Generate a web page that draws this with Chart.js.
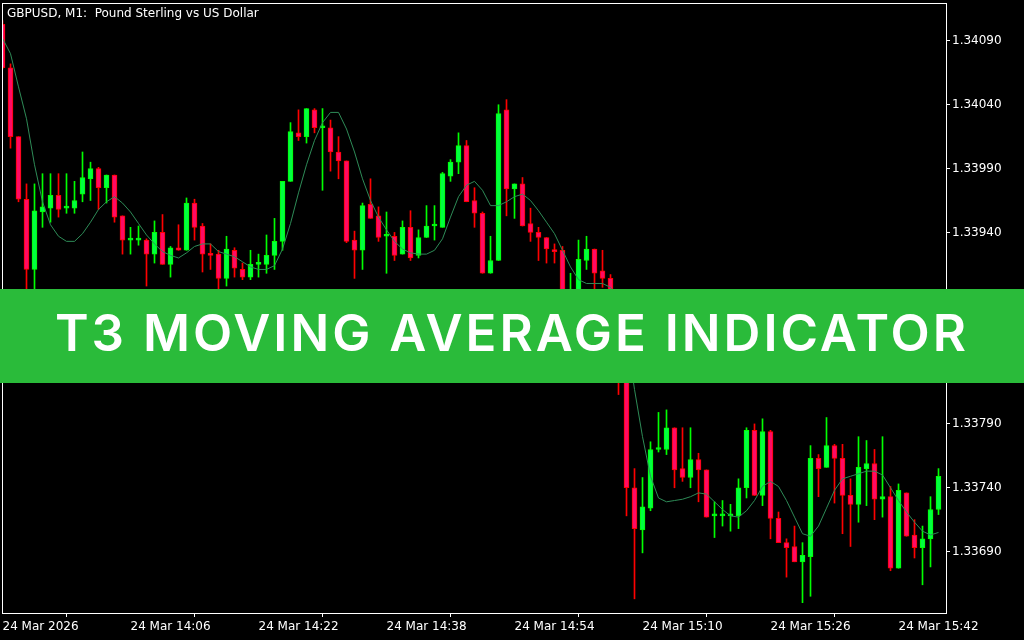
<!DOCTYPE html>
<html>
<head>
<meta charset="utf-8">
<script src="https://cdn.jsdelivr.net/npm/chart.js@4.4.1/dist/chart.umd.min.js"></script>
<style>
  html, body { margin: 0; padding: 0; background: #000; }
  #wrap { position: relative; width: 1024px; height: 640px; overflow: hidden; background: #000; }
  #c { display: block; }
  #sym { position: absolute; left: 7px; top: 6px; color: #fff; font: 12px 'DejaVu Sans', sans-serif; white-space: pre; }
  #banner {
    position: absolute; left: 0; top: 289px; width: 1024px; height: 94px;
    background: #2abb3a; box-sizing: border-box; padding-bottom: 8px;
    display: flex; align-items: center; justify-content: center;
    color: #fff; font: 600 51px Inter, sans-serif; letter-spacing: 3px;
  }
</style>
</head>
<body>
<div id="wrap">
  <canvas id="c" width="1024" height="640"></canvas>
  <div id="sym">GBPUSD, M1:  Pound Sterling vs US Dollar</div>
  <div id="banner">T3 MOVING AVERAGE INDICATOR</div>
</div>
<script>
// ── DATA: GBPUSD M1, 24 Mar 13:50 → 15:47 (one entry per candle) ──
const open = [
  1.34103,1.34069,1.34015,1.33966,1.33911,1.33956,1.33959,1.33969,1.33959,1.33959,
  1.33970,1.33982,1.33990,1.33975,1.33985,1.33953,1.33934,1.33934,1.33934,1.33923,
  1.33940,1.33915,1.33928,1.33926,1.33963,1.33945,1.33923,1.33923,1.33904,1.33926,
  1.33911,1.33905,1.33915,1.33915,1.33922,1.33933,1.33980,1.34018,1.34015,1.34036,
  1.34022,1.34022,1.34003,1.33996,1.33934,1.33926,1.33962,1.33953,1.33937,1.33937,
  1.33923,1.33944,1.33922,1.33936,1.33945,1.33944,1.33984,1.33995,1.34008,1.33965,
  1.33955,1.33908,1.33918,1.34036,1.33974,1.33978,1.33947,1.33940,1.33936,1.33926,
  1.33926,1.33885,1.33889,1.33918,1.33927,1.33910,1.33904,1.33871,1.33831,1.33740,
  1.33707,1.33724,1.33770,1.33770,1.33787,1.33755,1.33748,1.33762,1.33754,1.33718,
  1.33718,1.33718,1.33718,1.33740,1.33785,1.33734,1.33784,1.33716,1.33697,1.33694,
  1.33682,1.33686,1.33763,1.33756,1.33773,1.33763,1.33734,1.33727,1.33755,1.33759,
  1.33731,1.33733,1.33677,1.33736,1.33703,1.33693,1.33700,1.33723
];
const high = [
  1.34106,1.34072,1.34015,1.33978,1.33978,1.33986,1.33986,1.33986,1.33986,1.33980,
  1.34003,1.33995,1.33991,1.33985,1.33985,1.33953,1.33944,1.33945,1.33935,1.33949,
  1.33954,1.33929,1.33946,1.33967,1.33966,1.33947,1.33931,1.33926,1.33937,1.33928,
  1.33916,1.33926,1.33923,1.33938,1.33951,1.33980,1.34026,1.34036,1.34037,1.34037,
  1.34037,1.34028,1.34015,1.33996,1.33941,1.33963,1.33982,1.33960,1.33956,1.33940,
  1.33949,1.33957,1.33942,1.33961,1.33961,1.33987,1.33997,1.34018,1.34012,1.33975,
  1.33956,1.33937,1.34040,1.34044,1.33978,1.33983,1.33959,1.33944,1.33936,1.33931,
  1.33929,1.33908,1.33934,1.33937,1.33927,1.33926,1.33907,1.33875,1.33834,1.33755,
  1.33748,1.33776,1.33799,1.33801,1.33787,1.33787,1.33787,1.33767,1.33754,1.33729,
  1.33730,1.33727,1.33747,1.33787,1.33790,1.33794,1.33785,1.33721,1.33700,1.33710,
  1.33697,1.33773,1.33766,1.33795,1.33774,1.33774,1.33747,1.33780,1.33777,1.33770,
  1.33780,1.33741,1.33743,1.33736,1.33715,1.33710,1.33733,1.33755
];
const low = [
  1.34068,1.34006,1.33964,1.33893,1.33891,1.33944,1.33948,1.33952,1.33955,1.33955,
  1.33964,1.33965,1.33958,1.33963,1.33948,1.33923,1.33923,1.33930,1.33898,1.33916,
  1.33915,1.33905,1.33926,1.33926,1.33934,1.33909,1.33911,1.33893,1.33898,1.33905,
  1.33903,1.33903,1.33905,1.33908,1.33911,1.33926,1.33980,1.34012,1.34010,1.34018,
  1.33973,1.33988,1.33982,1.33932,1.33904,1.33911,1.33951,1.33933,1.33908,1.33918,
  1.33923,1.33918,1.33920,1.33936,1.33934,1.33944,1.33980,1.33986,1.33964,1.33944,
  1.33908,1.33908,1.33918,1.33953,1.33951,1.33945,1.33933,1.33918,1.33916,1.33916,
  1.33883,1.33879,1.33885,1.33911,1.33890,1.33897,1.33867,1.33813,1.33718,1.33653,
  1.33689,1.33722,1.33768,1.33766,1.33740,1.33745,1.33740,1.33729,1.33717,1.33701,
  1.33710,1.33706,1.33708,1.33732,1.33734,1.33726,1.33700,1.33697,1.33670,1.33682,
  1.33650,1.33655,1.33733,1.33756,1.33728,1.33704,1.33694,1.33713,1.33726,1.33715,
  1.33717,1.33675,1.33677,1.33702,1.33685,1.33664,1.33678,1.33719
];
const close = [
  1.34069,1.34015,1.33966,1.33911,1.33957,1.33960,1.33969,1.33958,1.33959,1.33965,
  1.33983,1.33990,1.33975,1.33985,1.33952,1.33934,1.33934,1.33934,1.33923,1.33940,
  1.33915,1.33928,1.33926,1.33963,1.33944,1.33923,1.33922,1.33904,1.33927,1.33912,
  1.33905,1.33915,1.33915,1.33922,1.33933,1.33980,1.34019,1.34015,1.34037,1.34022,
  1.34022,1.34003,1.33996,1.33933,1.33926,1.33961,1.33951,1.33936,1.33937,1.33922,
  1.33944,1.33920,1.33936,1.33945,1.33945,1.33986,1.33995,1.34008,1.33964,1.33955,
  1.33908,1.33918,1.34033,1.33974,1.33978,1.33945,1.33940,1.33936,1.33927,1.33925,
  1.33887,1.33893,1.33919,1.33927,1.33908,1.33904,1.33871,1.33831,1.33740,1.33708,
  1.33725,1.33770,1.33770,1.33787,1.33754,1.33748,1.33762,1.33754,1.33717,1.33718,
  1.33718,1.33718,1.33740,1.33785,1.33734,1.33784,1.33716,1.33697,1.33693,1.33682,
  1.33687,1.33763,1.33755,1.33773,1.33763,1.33734,1.33727,1.33756,1.33759,1.33731,
  1.33733,1.33677,1.33738,1.33702,1.33693,1.33700,1.33723,1.33749
];
const t3 = [
  1.34092,1.34080,1.34054,1.34029,1.33993,1.33964,1.33946,1.33937,1.33933,1.33933,
  1.33939,1.33948,1.33958,1.33964,1.33968,1.33963,1.33956,1.33947,1.33938,1.33931,
  1.33925,1.33922,1.33920,1.33924,1.33929,1.33931,1.33931,1.33925,1.33923,1.33921,
  1.33917,1.33913,1.33911,1.33911,1.33914,1.33927,1.33947,1.33971,1.33993,1.34012,
  1.34026,1.34034,1.34034,1.34021,1.34003,1.33982,1.33965,1.33952,1.33942,1.33933,
  1.33927,1.33924,1.33923,1.33923,1.33926,1.33935,1.33952,1.33968,1.33977,1.33980,
  1.33973,1.33961,1.33961,1.33964,1.33968,1.33970,1.33965,1.33957,1.33948,1.33939,
  1.33926,1.33913,1.33903,1.33900,1.33900,1.33900,1.33897,1.33887,1.33860,1.33817,
  1.33780,1.33749,1.33732,1.33729,1.33730,1.33731,1.33733,1.33736,1.33735,1.33729,
  1.33723,1.33718,1.33717,1.33722,1.33730,1.33741,1.33745,1.33741,1.33730,1.33717,
  1.33704,1.33702,1.33710,1.33724,1.33738,1.33747,1.33749,1.33751,1.33753,1.33753,
  1.33750,1.33740,1.33730,1.33721,1.33713,1.33706,1.33703,1.33705
];

// axis labels
const tickIndex  = [0, 16, 32, 48, 64, 80, 96, 112];
const tickLabels = ['24 Mar 2026', '24 Mar 14:06', '24 Mar 14:22', '24 Mar 14:38',
                    '24 Mar 14:54', '24 Mar 15:10', '24 Mar 15:26', '24 Mar 15:42'];
const yTicks = [1.33690, 1.33740, 1.33790, 1.33840, 1.33890, 1.33940, 1.33990, 1.34040, 1.34090];

// ── COLORS ──
const BULL_FILL = '#00ff40', BULL_LINE = '#00ff00';
const BEAR_FILL = '#ff0a64', BEAR_LINE = '#ff0000';
const T3_COLOR  = '#2e8b57';
const isBull = i => close[i] >= open[i];

const AXIS_FONT = { family: "'DejaVu Sans', sans-serif", size: 12 };

// white frame round the plot area
const framePlugin = {
  id: 'frame',
  afterDraw(chart) {
    const { ctx, chartArea: a } = chart;
    ctx.save();
    ctx.strokeStyle = '#fff';
    ctx.lineWidth = 1;
    ctx.strokeRect(a.left + 0.5, a.top + 0.5, a.right - a.left, a.bottom - a.top);
    ctx.restore();
  }
};

// fixed axis sizes, no label overhang padding
const fitX = s => { s.height = 27; s.paddingLeft = 0; s.paddingRight = 0; };
const fitY = s => { s.width = 78; s.paddingTop = 0; s.paddingBottom = 0; };

new Chart(document.getElementById('c'), {
  type: 'bar',
  data: {
    datasets: [
      {
        type: 'line', label: 'T3', order: 1,
        data: t3.map((v, i) => ({ x: i, y: v })),
        borderColor: T3_COLOR, borderWidth: 1, pointRadius: 0, tension: 0
      },
      {
        label: 'body', order: 2,
        data: open.map((o, i) => ({ x: i, y: [o, close[i]] })),
        backgroundColor: c => isBull(c.dataIndex) ? BULL_FILL : BEAR_FILL,
        borderColor: c => isBull(c.dataIndex) ? BULL_LINE : BEAR_LINE,
        borderWidth: 1, borderSkipped: false, barThickness: 5, minBarLength: 2, grouped: false
      },
      {
        label: 'wick', order: 3,
        data: low.map((l, i) => ({ x: i, y: [l, high[i]] })),
        backgroundColor: c => isBull(c.dataIndex) ? BULL_LINE : BEAR_LINE,
        borderWidth: 0, barThickness: 1, grouped: false
      }
    ]
  },
  options: {
    responsive: false, animation: false, devicePixelRatio: 1,
    layout: { padding: { left: 2, top: 3, right: 0, bottom: 0 } },
    plugins: { legend: { display: false }, tooltip: { enabled: false } },
    scales: {
      x: {
        type: 'linear', offset: false, min: -0.0625, max: 117.9375,
        afterBuildTicks: s => { s.ticks = tickIndex.map(v => ({ value: v })); },
        afterFit: fitX,
        ticks: {
          autoSkip: false, maxRotation: 0, align: 'start', color: '#fff', font: AXIS_FONT, padding: 3,
          callback: v => tickLabels[tickIndex.indexOf(v)]
        },
        grid: { drawOnChartArea: false, drawTicks: true, tickLength: 4, color: '#fff' },
        border: { display: false }
      },
      y: {
        type: 'linear', position: 'right', min: 1.336419, max: 1.341197,
        afterBuildTicks: s => { s.ticks = yTicks.map(v => ({ value: v })); },
        afterFit: fitY,
        ticks: { color: '#fff', font: AXIS_FONT, padding: 2, callback: v => v.toFixed(5) },
        grid: { drawOnChartArea: false, drawTicks: true, tickLength: 4, color: '#fff' },
        border: { display: false }
      }
    }
  },
  plugins: [framePlugin]
});
</script>
</body>
</html>
